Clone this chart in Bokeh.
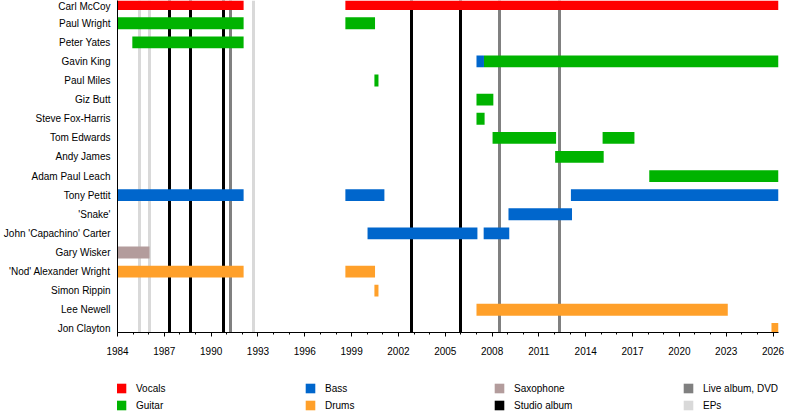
from bokeh.plotting import figure
from bokeh.layouts import column
from bokeh.models import FactorRange, Range1d, FixedTicker, Legend, LegendItem, ColumnDataSource
from bokeh.embed import file_html
from bokeh.resources import INLINE

# band members, top to bottom
members = ["Carl McCoy", "Paul Wright", "Peter Yates", "Gavin King", "Paul Miles",
           "Giz Butt", "Steve Fox-Harris", "Tom Edwards", "Andy James", "Adam Paul Leach",
           "Tony Pettit", "'Snake'", "John 'Capachino' Carter", "Gary Wisker",
           "'Nod' Alexander Wright", "Simon Rippin", "Lee Newell", "Jon Clayton"]

# "now" - the end of the timeline
present = 2026.35

# one entry per stint
stint_member = ["Carl McCoy", "Carl McCoy", "Paul Wright", "Paul Wright", "Peter Yates",
                "Gavin King", "Gavin King", "Paul Miles", "Giz Butt", "Steve Fox-Harris",
                "Tom Edwards", "Tom Edwards", "Andy James", "Adam Paul Leach",
                "Tony Pettit", "Tony Pettit", "Tony Pettit", "'Snake'",
                "John 'Capachino' Carter", "John 'Capachino' Carter", "Gary Wisker",
                "'Nod' Alexander Wright", "'Nod' Alexander Wright", "Simon Rippin",
                "Lee Newell", "Jon Clayton"]
stint_role = ["Vocals", "Vocals", "Guitar", "Guitar", "Guitar",
              "Bass", "Guitar", "Guitar", "Guitar", "Guitar",
              "Guitar", "Guitar", "Guitar", "Guitar",
              "Bass", "Bass", "Bass", "Bass",
              "Bass", "Bass", "Saxophone",
              "Drums", "Drums", "Drums",
              "Drums", "Drums"]
stint_start = [1984.0, 1998.6, 1984.0, 1998.6, 1984.95,
               2007.0, 2007.48, 2000.46, 2007.0, 2007.0,
               2008.03, 2015.08, 2012.04, 2018.07,
               1984.0, 1998.6, 2013.05, 2009.05,
               2000.02, 2007.46, 1984.0,
               1984.0, 1998.6, 2000.46,
               2007.0, 2025.9]
stint_end = [1992.08, present, 1992.08, 2000.5, 1992.08,
             2007.48, present, 2000.72, 2008.08, 2007.52,
             2012.1, 2017.12, 2015.15, present,
             1992.08, 2001.1, present, 2013.12,
             2007.06, 2009.1, 1986.05,
             1992.08, 2000.5, 2000.72,
             2023.1, present]

roles = ["Vocals", "Guitar", "Bass", "Drums", "Saxophone"]
role_colors = ["#ff0000", "#00b300", "#0066cc", "#ffa02a", "#b39c9c"]

# release markers
studio_albums = [1987.32, 1988.66, 1990.76, 2002.82, 2005.95]
live_albums = [1991.27, 2008.49, 2012.35]
eps = [1985.42, 1986.02, 1992.69]
marker_kinds = ["Studio album", "Live album, DVD", "EPs"]
marker_colors = ["black", "#808080", "#d9d9d9"]

year_ticks = [1984, 1987, 1990, 1993, 1996, 1999, 2002, 2005, 2008, 2011, 2014, 2017, 2020, 2023, 2026]
minor_years = list(range(1984, 2027))

FONT = "Liberation Sans"
SIZE = "10px"

p = figure(width=784, height=362,
           y_range=FactorRange(factors=members[::-1], range_padding=-0.31, range_padding_units="absolute"),
           x_range=Range1d(1984, present),
           output_backend="svg", toolbar_location=None,
           min_border_left=112, min_border_right=6, min_border_top=0, min_border_bottom=30)

# album lines go underneath the bars
for xs, color in zip([studio_albums, live_albums, eps], marker_colors):
    p.vspan(x=xs, line_color=color, line_width=3)

for role, color in zip(roles, role_colors):
    idx = [i for i, r in enumerate(stint_role) if r == role]
    src = ColumnDataSource(data=dict(
        member=[stint_member[i] for i in idx],
        start=[stint_start[i] for i in idx],
        end=[stint_end[i] for i in idx],
    ))
    p.hbar(y="member", left="start", right="end", height=0.62,
           source=src, fill_color=color, line_color=None)

p.xaxis.ticker = FixedTicker(ticks=year_ticks, minor_ticks=minor_years)
p.xaxis.major_tick_in = 0
p.xaxis.major_tick_out = 4
p.xaxis.minor_tick_in = 0
p.xaxis.minor_tick_out = 2
p.xaxis.major_label_standoff = 10
p.xaxis.axis_line_color = "black"
p.xaxis.major_tick_line_color = "black"
p.xaxis.minor_tick_line_color = "black"

p.yaxis.major_tick_in = 0
p.yaxis.major_tick_out = 0
p.yaxis.major_label_standoff = 7
p.yaxis.axis_line_color = "black"

for ax in (p.xaxis, p.yaxis):
    ax.major_label_text_font = FONT
    ax.major_label_text_font_size = SIZE
    ax.major_label_text_color = "black"

p.xgrid.grid_line_color = None
p.ygrid.grid_line_color = None
p.outline_line_color = None

# legend lives in its own strip under the chart
leg = figure(width=784, height=50, output_backend="svg", toolbar_location=None,
             x_axis_type=None, y_axis_type=None, min_border=0)
leg.xgrid.grid_line_color = None
leg.ygrid.grid_line_color = None
leg.outline_line_color = None

# zero-width bars: they only give the legend its colour swatches
swatch = {}
for name, color in zip(roles + marker_kinds, role_colors + marker_colors):
    swatch[name] = leg.hbar(y=[0], left=[0], right=[0], height=1, fill_color=color, line_color=None)

order = ["Vocals", "Guitar", "Bass", "Drums", "Saxophone", "Studio album", "Live album, DVD", "EPs"]
legend = Legend(items=[LegendItem(label=k, renderers=[swatch[k]]) for k in order],
                location=(-2, 1), orientation="vertical", nrows=2,
                glyph_width=12, glyph_height=12, label_standoff=9, label_width=163,
                label_height=12, spacing=5, padding=0, margin=0,
                border_line_color=None, background_fill_alpha=0,
                label_text_font=FONT, label_text_font_size=SIZE, label_text_color="black")
leg.add_layout(legend)

layout = column(p, leg, spacing=0)

open("out.html", "w").write(file_html(layout, INLINE))
